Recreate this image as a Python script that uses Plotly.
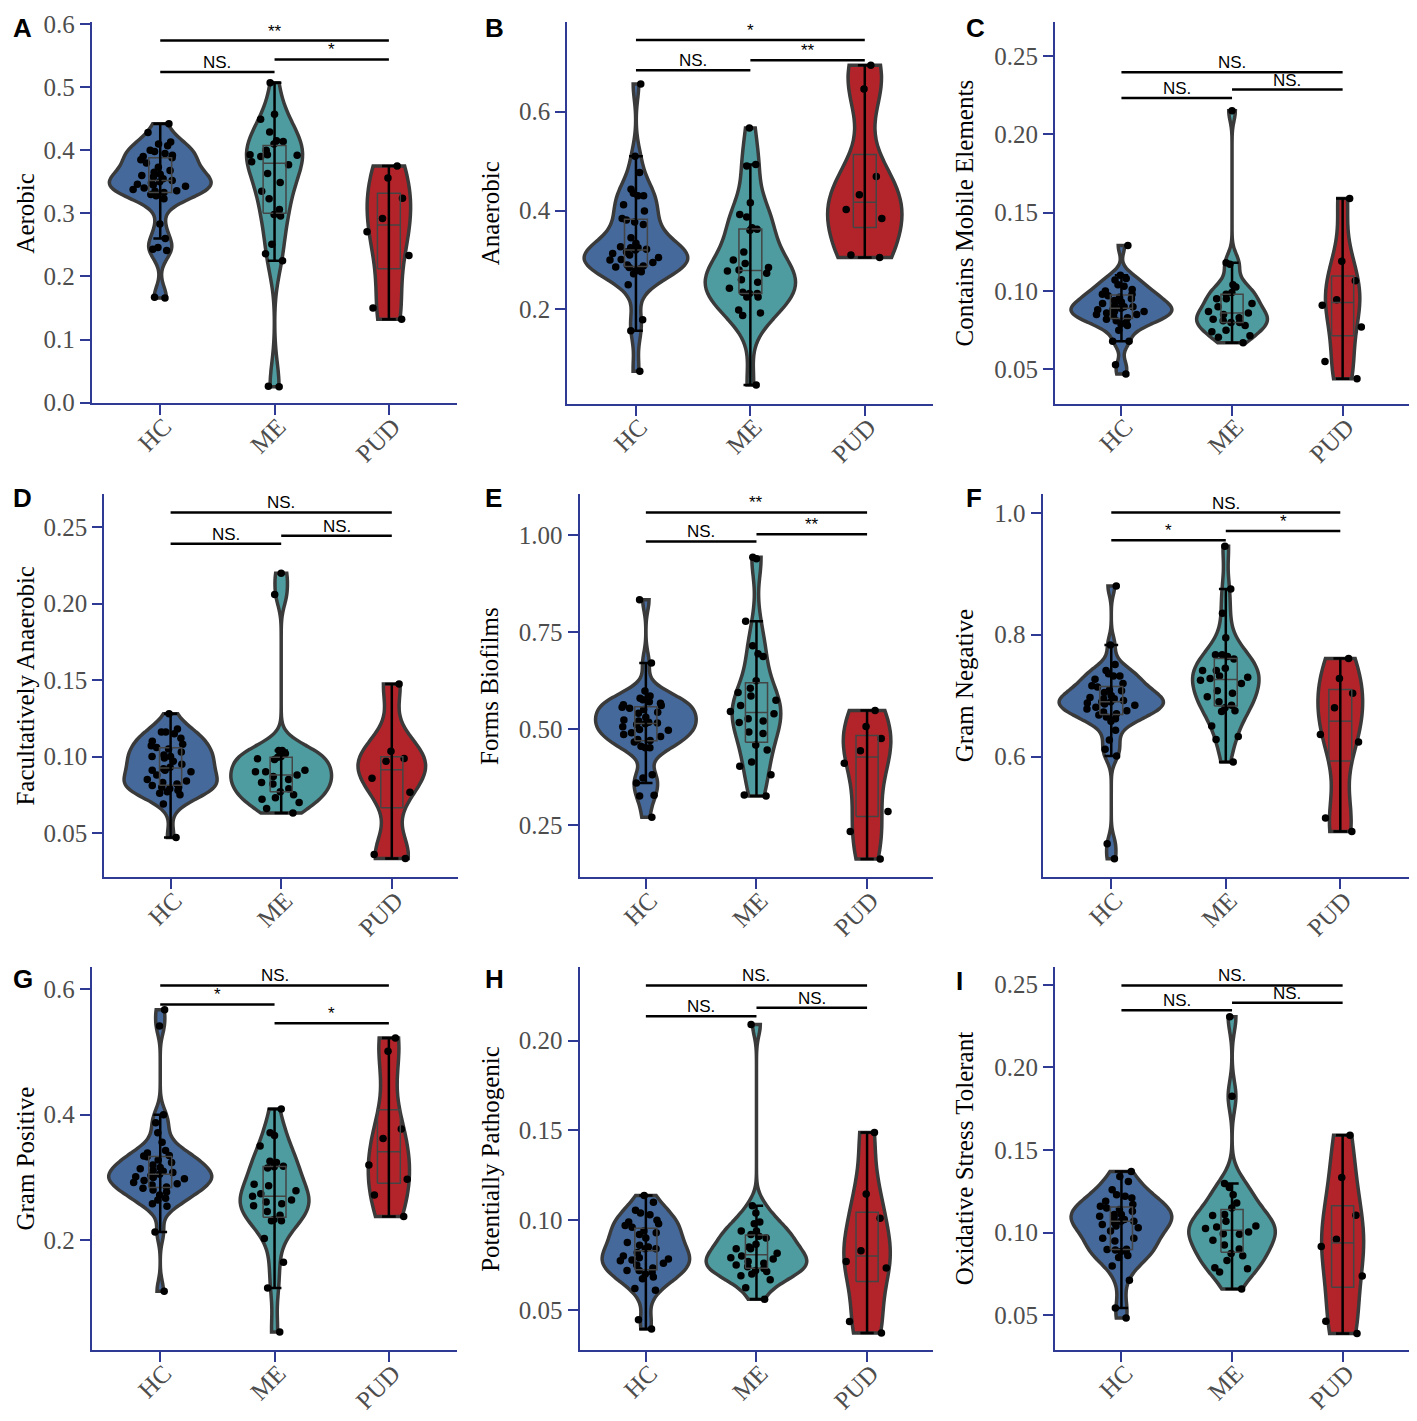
import numpy as np
import plotly.graph_objects as go

GROUPS = ["HC", "ME", "PUD"]
LETTERS = ["A", "B", "C", "D", "E", "F", "G", "H", "I"]
Y_TITLES = [
    "Aerobic", "Anaerobic", "Contains Mobile Elements",
    "Facultatively Anaerobic", "Forms Biofilms", "Gram Negative",
    "Gram Positive", "Potentially Pathogenic", "Oxidative Stress Tolerant",
]

# --- A: Aerobic ---
aerobic_hc = [0.442, 0.428, 0.413, 0.410, 0.407, 0.400, 0.398, 0.395, 0.392, 0.390, 0.388,
              0.385, 0.380, 0.373, 0.368, 0.365, 0.362, 0.360, 0.358, 0.355, 0.352, 0.350,
              0.348, 0.346, 0.345, 0.343, 0.340, 0.338, 0.336, 0.335, 0.333, 0.330, 0.328,
              0.323, 0.283, 0.260, 0.246, 0.243, 0.241, 0.167, 0.166]
aerobic_me = [0.507, 0.457, 0.449, 0.429, 0.415, 0.414, 0.410, 0.400, 0.393, 0.393, 0.392,
              0.390, 0.382, 0.377, 0.363, 0.349, 0.335, 0.323, 0.306, 0.298, 0.296, 0.251,
              0.236, 0.225, 0.026, 0.025]
aerobic_pud = [0.375, 0.356, 0.324, 0.292, 0.271, 0.233, 0.150, 0.132]

# --- B: Anaerobic ---
anaerobic_hc = [0.656, 0.510, 0.477, 0.443, 0.435, 0.430, 0.430, 0.412, 0.399, 0.384, 0.381,
                0.377, 0.372, 0.345, 0.334, 0.327, 0.325, 0.325, 0.322, 0.320, 0.316, 0.313,
                0.310, 0.305, 0.301, 0.300, 0.295, 0.290, 0.288, 0.286, 0.285, 0.282, 0.278,
                0.276, 0.272, 0.250, 0.179, 0.157, 0.075]
anaerobic_me = [0.567, 0.493, 0.490, 0.416, 0.392, 0.387, 0.365, 0.362, 0.360, 0.316, 0.300,
                0.293, 0.285, 0.280, 0.278, 0.273, 0.260, 0.255, 0.243, 0.235, 0.232, 0.232,
                0.225, 0.225, 0.199, 0.193, 0.188, 0.047]
anaerobic_pud = [0.694, 0.646, 0.469, 0.432, 0.402, 0.384, 0.310, 0.305]

# --- C: Contains Mobile Elements ---
mobile_hc = [0.129, 0.110, 0.108, 0.107, 0.104, 0.103, 0.101, 0.100, 0.098, 0.098, 0.097,
             0.096, 0.095, 0.094, 0.093, 0.092, 0.091, 0.090, 0.090, 0.089, 0.088, 0.088,
             0.087, 0.087, 0.086, 0.085, 0.085, 0.084, 0.083, 0.082, 0.081, 0.080, 0.079,
             0.078, 0.075, 0.068, 0.068, 0.053, 0.047]
mobile_me = [0.215, 0.118, 0.117, 0.104, 0.1025, 0.099, 0.098, 0.095, 0.095, 0.092, 0.090,
             0.087, 0.086, 0.085, 0.083, 0.082, 0.081, 0.080, 0.080, 0.078, 0.075, 0.074,
             0.0715, 0.0705, 0.067]
mobile_pud = [0.159, 0.119, 0.1065, 0.0945, 0.091, 0.077, 0.055, 0.044]

# --- D: Facultatively Anaerobic ---
facult_hc = [0.128, 0.118, 0.116, 0.116, 0.115, 0.112, 0.110, 0.108, 0.107, 0.106, 0.105,
             0.103, 0.101, 0.100, 0.100, 0.099, 0.097, 0.095, 0.093, 0.092, 0.091, 0.091,
             0.090, 0.088, 0.085, 0.084, 0.083, 0.082, 0.081, 0.080, 0.080, 0.079, 0.078,
             0.077, 0.076, 0.075, 0.069, 0.047]
facult_me = [0.220, 0.206, 0.104, 0.104, 0.102, 0.100, 0.0995, 0.0985, 0.098, 0.091, 0.090,
             0.090, 0.088, 0.087, 0.085, 0.083, 0.082, 0.079, 0.077, 0.075, 0.073, 0.072,
             0.070, 0.066, 0.063]
facult_pud = [0.1475, 0.1035, 0.0987, 0.097, 0.0858, 0.0766, 0.036, 0.0333]

# --- E: Forms Biofilms ---
biofilm_hc = [0.834, 0.670, 0.598, 0.585, 0.579, 0.575, 0.570, 0.566, 0.562, 0.560, 0.556,
              0.553, 0.550, 0.543, 0.540, 0.530, 0.523, 0.520, 0.517, 0.515, 0.513, 0.511,
              0.505, 0.498, 0.496, 0.490, 0.485, 0.480, 0.472, 0.470, 0.466, 0.455, 0.451,
              0.451, 0.381, 0.373, 0.360, 0.328, 0.326, 0.271]
biofilm_me = [0.944, 0.940, 0.778, 0.715, 0.694, 0.687, 0.624, 0.605, 0.594, 0.585, 0.574,
              0.560, 0.545, 0.539, 0.526, 0.520, 0.516, 0.492, 0.488, 0.458, 0.445, 0.414,
              0.403, 0.381, 0.329, 0.326]
biofilm_pud = [0.547, 0.506, 0.475, 0.443, 0.411, 0.286, 0.234, 0.163]

# --- F: Gram Negative ---
gramneg_hc = [0.880, 0.783, 0.751, 0.741, 0.736, 0.732, 0.732, 0.727, 0.720, 0.716, 0.714,
              0.709, 0.708, 0.705, 0.700, 0.697, 0.695, 0.695, 0.692, 0.690, 0.690, 0.688,
              0.686, 0.684, 0.681, 0.678, 0.675, 0.673, 0.670, 0.668, 0.665, 0.662, 0.658,
              0.643, 0.627, 0.612, 0.601, 0.457, 0.432]
gramneg_me = [0.945, 0.875, 0.835, 0.795, 0.767, 0.767, 0.764, 0.760, 0.745, 0.741, 0.741,
              0.732, 0.730, 0.728, 0.725, 0.720, 0.708, 0.704, 0.698, 0.690, 0.684, 0.680,
              0.675, 0.674, 0.650, 0.633, 0.628, 0.591]
gramneg_pud = [0.761, 0.728, 0.704, 0.680, 0.636, 0.624, 0.499, 0.477]

# --- G: Gram Positive ---
grampos_hc = [0.567, 0.541, 0.400, 0.387, 0.371, 0.356, 0.343, 0.339, 0.335, 0.334, 0.333,
              0.328, 0.324, 0.320, 0.316, 0.314, 0.311, 0.310, 0.308, 0.305, 0.303, 0.301,
              0.300, 0.298, 0.295, 0.292, 0.290, 0.288, 0.285, 0.283, 0.280, 0.277, 0.272,
              0.267, 0.264, 0.258, 0.254, 0.213, 0.119]
grampos_me = [0.409, 0.371, 0.367, 0.350, 0.326, 0.324, 0.318, 0.317, 0.315, 0.289, 0.287,
              0.279, 0.274, 0.270, 0.264, 0.261, 0.258, 0.255, 0.246, 0.240, 0.233, 0.231,
              0.231, 0.203, 0.165, 0.124, 0.054]
grampos_pud = [0.522, 0.501, 0.377, 0.362, 0.320, 0.297, 0.272, 0.238]

# --- H: Potentially Pathogenic ---
pathogen_hc = [0.1137, 0.110, 0.1055, 0.104, 0.103, 0.100, 0.099, 0.098, 0.097, 0.096, 0.094,
               0.093, 0.092, 0.090, 0.0875, 0.086, 0.085, 0.084, 0.084, 0.082, 0.080, 0.079,
               0.0783, 0.0778, 0.0774, 0.076, 0.075, 0.0734, 0.072, 0.072, 0.071, 0.070,
               0.0683, 0.0674, 0.0619, 0.061, 0.0445, 0.0394]
pathogen_me = [0.209, 0.108, 0.104, 0.099, 0.098, 0.094, 0.094, 0.092, 0.091, 0.090, 0.0866,
               0.085, 0.084, 0.084, 0.0815, 0.080, 0.079, 0.0783, 0.077, 0.076, 0.075, 0.074,
               0.073, 0.072, 0.0714, 0.070, 0.069, 0.0668, 0.0624, 0.0559]
pathogen_pud = [0.1488, 0.1146, 0.101, 0.083, 0.077, 0.0733, 0.0436, 0.0372]

# --- I: Oxidative Stress Tolerant ---
oxidative_hc = [0.137, 0.134, 0.131, 0.126, 0.123, 0.122, 0.121, 0.119, 0.117, 0.116, 0.115,
                0.114, 0.113, 0.111, 0.111, 0.110, 0.109, 0.108, 0.107, 0.107, 0.106, 0.105,
                0.104, 0.103, 0.101, 0.0967, 0.0967, 0.095, 0.0898, 0.0895, 0.090, 0.089,
                0.0887, 0.0862, 0.085, 0.0798, 0.0713, 0.0544, 0.0484]
oxidative_me = [0.2307, 0.1825, 0.1298, 0.1273, 0.1229, 0.118, 0.115, 0.111, 0.1104, 0.107,
                0.104, 0.1034, 0.1026, 0.1004, 0.0994, 0.099, 0.0955, 0.0925, 0.0901, 0.0875,
                0.0860, 0.0832, 0.0788, 0.0782, 0.0762, 0.0659]
oxidative_pud = [0.159, 0.1334, 0.1106, 0.096, 0.0917, 0.0738, 0.0464, 0.039]

# significance labels: HC vs ME, ME vs PUD, HC vs PUD
SIG_A = ["NS.", "*", "**"]
SIG_B = ["NS.", "**", "*"]
SIG_C = ["NS.", "NS.", "NS."]
SIG_D = ["NS.", "NS.", "NS."]
SIG_E = ["NS.", "**", "**"]
SIG_F = ["*", "*", "NS."]
SIG_G = ["*", "*", "NS."]
SIG_H = ["NS.", "NS.", "NS."]
SIG_I = ["NS.", "NS.", "NS."]

PANEL_DATA = [
    (aerobic_hc, aerobic_me, aerobic_pud),
    (anaerobic_hc, anaerobic_me, anaerobic_pud),
    (mobile_hc, mobile_me, mobile_pud),
    (facult_hc, facult_me, facult_pud),
    (biofilm_hc, biofilm_me, biofilm_pud),
    (gramneg_hc, gramneg_me, gramneg_pud),
    (grampos_hc, grampos_me, grampos_pud),
    (pathogen_hc, pathogen_me, pathogen_pud),
    (oxidative_hc, oxidative_me, oxidative_pud),
]
PANEL_SIG = [SIG_A, SIG_B, SIG_C, SIG_D, SIG_E, SIG_F, SIG_G, SIG_H, SIG_I]

# ---------------- layout / styling ----------------
PAGE_W, PAGE_H = 1417, 1421
BODY_MARGIN = 8  # the html page keeps the browser's default body margin
W, H = PAGE_W - 2 * BODY_MARGIN, PAGE_H - 2 * BODY_MARGIN
# the reference content runs right to the page edges; squeeze it a little
# so that every text fits inside the body margin
ORIGIN_X, END_X = 3, 1415
ORIGIN_Y, END_Y = -3, 1423
SX = W / (END_X - ORIGIN_X)
SY = H / (END_Y - ORIGIN_Y)

FILL = ["#45699A", "#4E9C9F", "#B3242A"]
OUTLINE = "#3A3A3A"
AXIS_BLUE = "#2E3A94"
TICK_GREY = "#4D4D4D"
SERIF = "Liberation Serif"
SANS = "Liberation Sans"

# panel frame in reference pixels: y-axis x, right end x, top y, bottom y
PANEL_PX = [
    (87.3, 456, 11.7, 398), (566.7, 935.7, 11.7, 398.5), (1058.3, 1415, 11.7, 398.5),
    (100, 456.7, 490.7, 879), (579, 935.7, 490.7, 879), (1045.7, 1415, 490.7, 879),
    (87.3, 456, 970.7, 1359), (579, 935.7, 970.7, 1359), (1058.3, 1415, 970.7, 1359),
]
X_RANGE = [-0.6, 2.6]
Y_RANGE = [
    (-0.0008, 0.6026), (0.0096, 0.7804), (0.0282, 0.2713),
    (0.0212, 0.2715), (0.1166, 1.1062), (0.4022, 1.0302),
    (0.0254, 0.6345), (0.0277, 0.2408), (0.0291, 0.2605),
]
Y_TICKS = [  # tick0, dtick, format
    (0.0, 0.1, ".1f"), (0.2, 0.2, ".1f"), (0.05, 0.05, ".2f"),
    (0.05, 0.05, ".2f"), (0.25, 0.25, ".2f"), (0.6, 0.2, ".1f"),
    (0.2, 0.2, ".1f"), (0.05, 0.05, ".2f"), (0.05, 0.05, ".2f"),
]
BRACKET_Y = [  # HC-ME, ME-PUD, HC-PUD
    (0.524, 0.544, 0.574), (0.684, 0.704, 0.745), (0.2232, 0.2285, 0.2395),
    (0.2393, 0.2444, 0.2597), (0.9847, 1.0034, 1.0595), (0.955, 0.970, 1.0005),
    (0.5754, 0.5456, 0.6057), (0.2135, 0.2183, 0.2307), (0.2345, 0.2391, 0.2496),
]
VIOLIN_W = [
    (0.89, 0.49, 0.38), (0.90, 0.79, 0.65), (0.91, 0.64, 0.31),
    (0.84, 0.91, 0.61), (0.91, 0.44, 0.43), (0.91, 0.58, 0.39),
    (0.90, 0.60, 0.36), (0.79, 0.91, 0.42), (0.91, 0.78, 0.38),
]
TITLE_X = [21, 489, 967, 21, 489, 967, 21, 489, 967]
LETTER_XY = [(6, 0), (482, 0), (967, 0), (6, 477), (482, 477), (967, 477),
             (6, 965), (482, 965), (956, 967)]
BOX_W = 0.2
CAP_W = 0.12
JITTER_W = 0.5


def px_x(v):
    return min(1.0, (v - ORIGIN_X) * SX / W)


def px_y(v):
    return max(0.0, 1 - (v - ORIGIN_Y) * SY / H)


def nrd0(v):
    # R's default bandwidth (bw.nrd0), same as ggplot's violin
    q1, q3 = np.percentile(v, [25, 75])
    lo = min(np.std(v, ddof=1), (q3 - q1) / 1.34)
    if lo <= 0:
        lo = np.std(v, ddof=1)
    return 0.9 * lo * len(v) ** -0.2


fig = go.Figure()
layout = {}
annotations = []

axis_style = dict(
    showline=True, linecolor=AXIS_BLUE, linewidth=2,
    ticks="outside", ticklen=10, tickwidth=2, tickcolor=AXIS_BLUE,
    showgrid=False, zeroline=False, automargin=False,
    tickfont=dict(family=SERIF, size=25, color=TICK_GREY),
)

for k in range(9):
    sfx = "" if k == 0 else str(k + 1)
    xa, ya = "x" + sfx, "y" + sfx
    x0, x1, yt, yb = PANEL_PX[k]
    t0, dt, fmt = Y_TICKS[k]
    layout["xaxis" + sfx] = dict(
        domain=[px_x(x0), px_x(x1)], anchor=ya, type="linear", range=X_RANGE,
        tickmode="array", tickvals=[0, 1, 2], ticktext=GROUPS, tickangle=-45,
        ticklabelstandoff=-13, ticklabelshift=4, **axis_style)
    layout["yaxis" + sfx] = dict(
        domain=[px_y(yb), px_y(yt)], anchor=xa, range=list(Y_RANGE[k]),
        tickmode="linear", tick0=t0, dtick=dt, tickformat=fmt,
        ticklabeloverflow="allow", **axis_style)

    groups = [np.array(g, dtype=float) for g in PANEL_DATA[k]]

    # violins
    for g, v in enumerate(groups):
        fig.add_trace(go.Violin(
            x=[g] * len(v), y=v, xaxis=xa, yaxis=ya, name=GROUPS[g],
            width=VIOLIN_W[k][g], scalemode="width", spanmode="hard",
            bandwidth=nrd0(v), fillcolor=FILL[g],
            line=dict(color=OUTLINE, width=3.5),
            points=False, box_visible=False, meanline_visible=False,
            hoverinfo="skip"))

    # boxes and whiskers from quartiles
    bx, by, wx, wy = [], [], [], []
    for g, v in enumerate(groups):
        q1, med, q3 = np.percentile(v, [25, 50, 75])
        iqr = q3 - q1
        lo = v[v >= q1 - 1.5 * iqr].min()
        hi = v[v <= q3 + 1.5 * iqr].max()
        h, c = BOX_W / 2, CAP_W / 2
        bx += [g - h, g + h, g + h, g - h, g - h, None, g - h, g + h, None]
        by += [q1, q1, q3, q3, q1, None, med, med, None]
        wx += [g, g, None, g - c, g + c, None, g - c, g + c, None]
        wy += [lo, hi, None, lo, lo, None, hi, hi, None]
    fig.add_trace(go.Scatter(x=bx, y=by, xaxis=xa, yaxis=ya, mode="lines",
                             line=dict(color="#444444", width=1.5), hoverinfo="skip"))
    fig.add_trace(go.Scatter(x=wx, y=wy, xaxis=xa, yaxis=ya, mode="lines",
                             line=dict(color="black", width=2.5), hoverinfo="skip"))

    # jittered points
    for g, v in enumerate(groups):
        fig.add_trace(go.Box(
            x=[g] * len(v), y=v, xaxis=xa, yaxis=ya, width=JITTER_W,
            boxpoints="all", jitter=1, pointpos=0, whiskerwidth=0,
            fillcolor="rgba(0,0,0,0)", line=dict(color="rgba(0,0,0,0)", width=0),
            marker=dict(color="black", size=7.5), hoverinfo="skip"))

    # significance brackets
    b = BRACKET_Y[k]
    fig.add_trace(go.Scatter(
        x=[0, 1, None, 1, 2, None, 0, 2], y=[b[0], b[0], None, b[1], b[1], None, b[2], b[2]],
        xaxis=xa, yaxis=ya, mode="lines", line=dict(color="black", width=2.5),
        hoverinfo="skip"))
    for (xm, yv, lab) in zip([0.5, 1.5, 1.0], b, PANEL_SIG[k]):
        annotations.append(dict(
            x=xm, y=yv, xref=xa, yref=ya, text=lab, showarrow=False,
            xanchor="center", yanchor="bottom", yshift=-2,
            font=dict(family=SANS, size=17, color="black")))

    # y-axis title and panel letter
    annotations.append(dict(
        x=px_x(TITLE_X[k]), y=(px_y(yb) + px_y(yt)) / 2, xref="paper", yref="paper",
        text=Y_TITLES[k], textangle=-90, showarrow=False,
        xanchor="center", yanchor="middle",
        font=dict(family=SERIF, size=25, color="black")))
    lx, ly = LETTER_XY[k]
    annotations.append(dict(
        x=px_x(lx), y=px_y(ly), xref="paper", yref="paper",
        text="<b>" + LETTERS[k] + "</b>", showarrow=False,
        xanchor="left", yanchor="top",
        font=dict(family=SANS, size=26, color="black")))

fig.update_layout(
    template="none",
    width=W, height=H,
    margin=dict(l=0, r=0, t=0, b=0, autoexpand=False),
    paper_bgcolor="white", plot_bgcolor="white",
    showlegend=False,
    violinmode="overlay", boxmode="overlay",
    annotations=annotations,
    **layout,
)

fig.write_html("out.html")
